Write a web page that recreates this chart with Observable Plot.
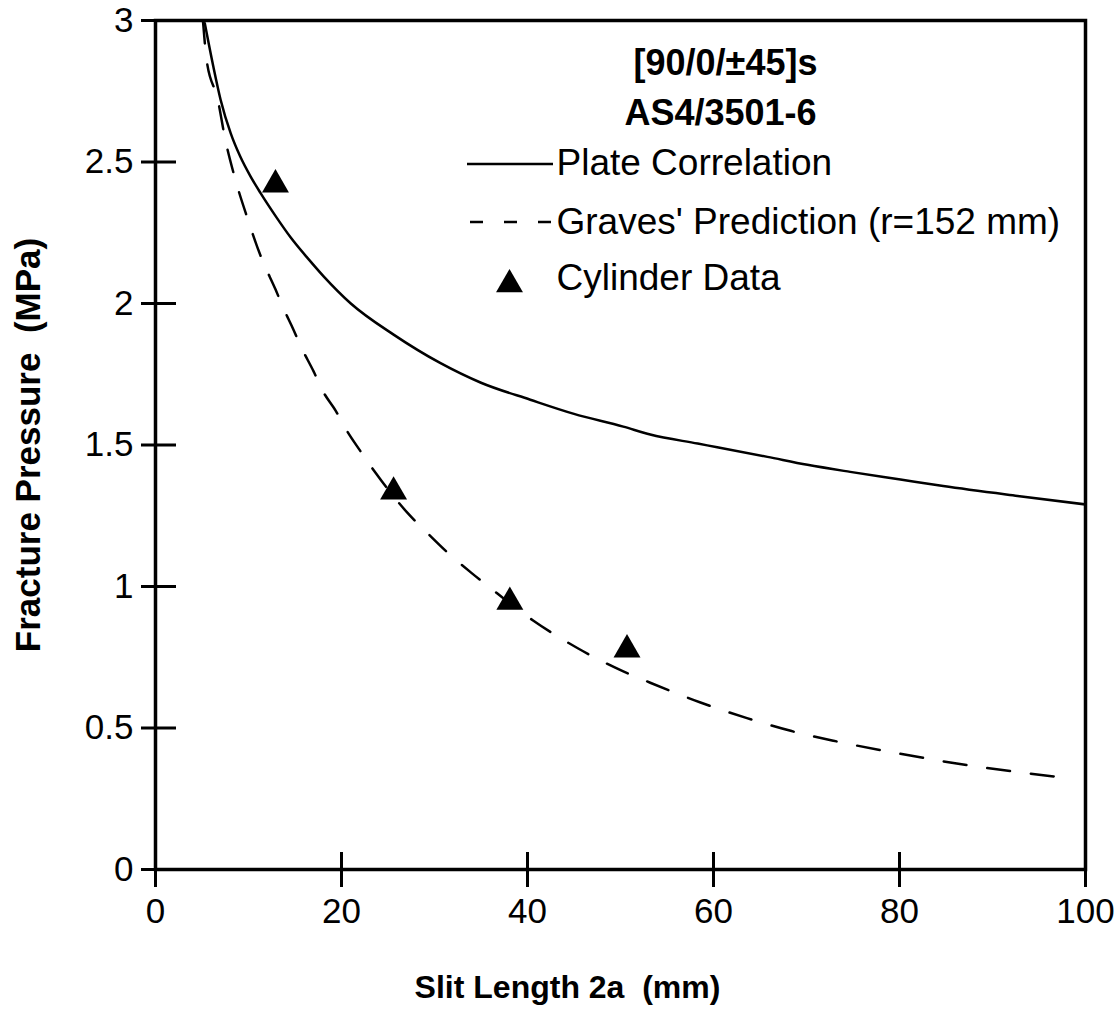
<!DOCTYPE html>
<html>
<head>
<meta charset="utf-8">
<script src="https://cdn.jsdelivr.net/npm/d3@7"></script>
<script src="https://cdn.jsdelivr.net/npm/@observablehq/plot@0.6"></script>
<style>
  html, body { margin: 0; padding: 0; background: #fff; }
  #chart svg { display: block; }
</style>
</head>
<body>
<div id="chart"></div>
<script>
// ---- Data ----
const plateX = [5.3, 6.2, 7.0, 8.1, 9.1, 10.2, 11.3, 13.1, 14.5, 16.5, 18.1, 21.0, 25.6, 30.6, 35.0, 40.3, 45.0, 50.3, 53.2, 58.3, 60.4, 65.8, 70.1, 74.7, 80.1, 84.7, 92.7, 100];
const plateY = [2.99, 2.84, 2.72, 2.60, 2.52, 2.45, 2.39, 2.30, 2.235, 2.155, 2.095, 2.00, 1.89, 1.79, 1.72, 1.66, 1.61, 1.565, 1.537, 1.505, 1.492, 1.458, 1.43, 1.405, 1.378, 1.355, 1.32, 1.29];

const gravesX = [5.1, 5.5, 6.7, 7.5, 8.4, 9.9, 11.4, 12.9, 13.8, 14.8, 15.6, 17.0, 18.0, 19.4, 20.4, 22.0, 23.7, 25.8, 27.1, 29.2, 31.4, 33.9, 36.2, 38.5, 40.6, 45.5, 50.3, 53.2, 58.6, 63.6, 68.3, 72.9, 77.9, 82.8, 87.4, 92.3, 97.1, 98.5];
const gravesY = [3.0, 2.86, 2.72, 2.58, 2.46, 2.30, 2.16, 2.05, 1.98, 1.91, 1.85, 1.76, 1.69, 1.62, 1.56, 1.48, 1.40, 1.31, 1.26, 1.19, 1.12, 1.05, 0.99, 0.93, 0.88, 0.78, 0.70, 0.66, 0.59, 0.535, 0.49, 0.455, 0.422, 0.393, 0.368, 0.346, 0.327, 0.322];

const cylinderX = [12.9, 25.6, 38.1, 50.7];
const cylinderY = [2.42, 1.335, 0.945, 0.777];

const xTicks = [0, 20, 40, 60, 80, 100];
const yTicks = [0, 0.5, 1, 1.5, 2, 2.5, 3];

const legendTitle1 = "[90/0/±45]s";
const legendTitle2 = "AS4/3501-6";
const seriesNames = ["Plate Correlation", "Graves' Prediction (r=152 mm)", "Cylinder Data"];
const xLabel = "Slit Length 2a  (mm)";
const yLabel = "Fracture Pressure  (MPa)";

// ---- Tables ----
const plate = plateX.map((x, i) => ({x, y: plateY[i]}));
const graves = gravesX.map((x, i) => ({x, y: gravesY[i]}));
const cylinder = cylinderX.map((x, i) => ({x, y: cylinderY[i]}));

// ---- Layout ----
const W = 1120, H = 1009;
const mL = 155, mR = 35, mT = 20, mB = 140;
const fw = W - mL - mR, fh = H - mT - mB;
const FONT = "'Liberation Sans', Arial, Helvetica, sans-serif";

const svg = Plot.plot({
  width: W,
  height: H,
  marginLeft: mL,
  marginRight: mR,
  marginTop: mT,
  marginBottom: mB,
  style: {fontFamily: FONT, fontSize: "34px", color: "black", background: "white"},
  x: {domain: [0, 100]},
  y: {domain: [0, 3]},
  marks: [
    Plot.frame({stroke: "black", strokeWidth: 3.5}),
    Plot.tickX(xTicks, {x: d => d, insetTop: fh - 17, insetBottom: -18, stroke: "black", strokeWidth: 3}),
    Plot.tickY(yTicks, {y: d => d, insetLeft: -14, insetRight: fw - 21, stroke: "black", strokeWidth: 3}),
    Plot.axisX({ticks: xTicks, tickSize: 0, tickPadding: 29, tickFormat: d => String(d), label: null, fontSize: 35, fill: "black"}),
    Plot.axisY({ticks: yTicks, tickSize: 0, tickPadding: 22, tickFormat: d => String(d), label: null, fontSize: 35, fill: "black"}),
    Plot.line(plate, {x: "x", y: "y", stroke: "black", strokeWidth: 2.5, curve: "monotone-x", clip: true}),
    Plot.line(graves, {x: "x", y: "y", stroke: "black", strokeWidth: 2.5, strokeDasharray: "23,21", curve: "monotone-x", clip: true}),
    Plot.dot(cylinder, {x: "x", y: "y", symbol: "triangle", r: 10, fill: "black", stroke: "none"}),
    // axis titles
    Plot.text([xLabel], {frameAnchor: "bottom-left", dx: 412, dy: 118, lineAnchor: "middle", textAnchor: "middle", fontWeight: "bold", fontSize: 32, fill: "black"}),
    Plot.text([yLabel], {frameAnchor: "left", dx: -127, rotate: -90, lineAnchor: "middle", textAnchor: "middle", fontWeight: "bold", fontSize: 35, fill: "black"}),
    // legend texts
    Plot.text([legendTitle1], {frameAnchor: "top-left", dx: 570, dy: 43, lineAnchor: "middle", textAnchor: "middle", fontWeight: "bold", fontSize: 36, fill: "black"}),
    Plot.text([legendTitle2], {frameAnchor: "top-left", dx: 565, dy: 93, lineAnchor: "middle", textAnchor: "middle", fontWeight: "bold", fontSize: 36, fill: "black"}),
    Plot.text([seriesNames[0]], {frameAnchor: "top-left", dx: 401, dy: 143, lineAnchor: "middle", textAnchor: "start", fontSize: 37, fill: "black"}),
    Plot.text([seriesNames[1]], {frameAnchor: "top-left", dx: 401, dy: 202, lineAnchor: "middle", textAnchor: "start", fontSize: 37, fill: "black"}),
    Plot.text([seriesNames[2]], {frameAnchor: "top-left", dx: 401, dy: 258, lineAnchor: "middle", textAnchor: "start", fontSize: 37, fill: "black"}),
    Plot.dot([0], {frameAnchor: "top-left", dx: 354, dy: 264, symbol: "triangle", r: 10, fill: "black", stroke: "none"})
  ]
});

// legend line samples
const g = d3.select(svg).append("g").attr("stroke", "black").attr("stroke-width", 2.5);
g.append("line").attr("x1", 467).attr("x2", 553).attr("y1", 164).attr("y2", 164);
g.append("line").attr("x1", 470).attr("x2", 552).attr("y1", 222).attr("y2", 222).attr("stroke-dasharray", "13,21");

document.getElementById("chart").appendChild(svg);
</script>
</body>
</html>
